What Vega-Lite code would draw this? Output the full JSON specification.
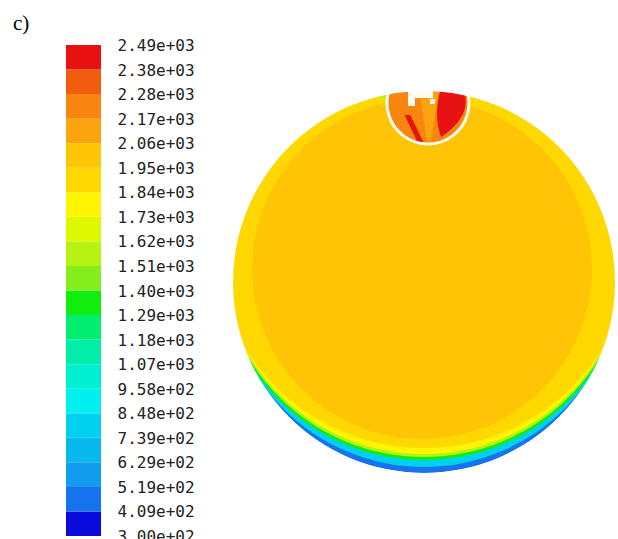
{
  "$schema": "https://vega.github.io/schema/vega-lite/v6.json",
  "background": "white",
  "padding": {"left": 13, "top": 13, "right": 3, "bottom": 0},
  "config": {"view": {"stroke": null}},
  "title": {
    "text": "c)",
    "anchor": "start",
    "font": "Liberation Serif",
    "fontSize": 21,
    "fontWeight": "normal",
    "color": "#000000",
    "dx": -53,
    "offset": 4
  },
  "bounds": "flush",
  "spacing": 132,
  "resolve": {"scale": {"color": "independent"}},
  "datasets": {
    "bands": [
      {"lo": 299.6, "hi": 409.35},
      {"lo": 409.35, "hi": 519.1},
      {"lo": 519.1, "hi": 628.85},
      {"lo": 628.85, "hi": 738.6},
      {"lo": 738.6, "hi": 848.35},
      {"lo": 848.35, "hi": 958.1},
      {"lo": 958.1, "hi": 1067.85},
      {"lo": 1067.85, "hi": 1177.6},
      {"lo": 1177.6, "hi": 1287.35},
      {"lo": 1287.35, "hi": 1397.1},
      {"lo": 1397.1, "hi": 1506.85},
      {"lo": 1506.85, "hi": 1616.6},
      {"lo": 1616.6, "hi": 1726.35},
      {"lo": 1726.35, "hi": 1836.1},
      {"lo": 1836.1, "hi": 1945.85},
      {"lo": 1945.85, "hi": 2055.6},
      {"lo": 2055.6, "hi": 2165.35},
      {"lo": 2165.35, "hi": 2275.1},
      {"lo": 2275.1, "hi": 2384.85},
      {"lo": 2384.85, "hi": 2494.6}
    ],
    "ticks": [
      {"t": 299.6, "label": "3.00e+02"},
      {"t": 409.35, "label": "4.09e+02"},
      {"t": 519.1, "label": "5.19e+02"},
      {"t": 628.85, "label": "6.29e+02"},
      {"t": 738.6, "label": "7.39e+02"},
      {"t": 848.35, "label": "8.48e+02"},
      {"t": 958.1, "label": "9.58e+02"},
      {"t": 1067.85, "label": "1.07e+03"},
      {"t": 1177.6, "label": "1.18e+03"},
      {"t": 1287.35, "label": "1.29e+03"},
      {"t": 1397.1, "label": "1.40e+03"},
      {"t": 1506.85, "label": "1.51e+03"},
      {"t": 1616.6, "label": "1.62e+03"},
      {"t": 1726.35, "label": "1.73e+03"},
      {"t": 1836.1, "label": "1.84e+03"},
      {"t": 1945.85, "label": "1.95e+03"},
      {"t": 2055.6, "label": "2.06e+03"},
      {"t": 2165.35, "label": "2.17e+03"},
      {"t": 2275.1, "label": "2.28e+03"},
      {"t": 2384.85, "label": "2.38e+03"},
      {"t": 2494.6, "label": "2.49e+03"}
    ],
    "discs": [
      {"k": 0, "x": 0, "y": 0, "r": 1, "t": 460},
      {"k": 1, "x": 0, "y": 0.0733, "r": 1.0419, "t": 790},
      {"k": 2, "x": 0, "y": 0.1414, "r": 1.0733, "t": 1340},
      {"k": 3, "x": 0, "y": 0.1571, "r": 1.0733, "t": 1560},
      {"k": 4, "x": 0, "y": 0.1728, "r": 1.0733, "t": 1780},
      {"k": 5, "x": 0, "y": 0.2304, "r": 1.0995, "t": 1890},
      {"k": 6, "x": -0.0105, "y": 0.0681, "r": 0.8901, "t": 2000}
    ],
    "inset": [
      {"part": "base", "x": 0.0209, "y": 0.9372, "r": 0.2147, "t": 2220},
      {"part": "stripe", "x": 0.0262, "y": 0.8743, "r": 0.1361, "t": 2110},
      {"part": "red", "x": 0.1414, "y": 0.8796, "r": 0.1152, "t": 2440},
      {"part": "streak", "x": -0.0576, "y": 0.801, "r": 0.0733, "t": 2440},
      {"part": "hook", "x": -0.0157, "y": 0.9634, "r": 0.0733, "t": 0},
      {"part": "spot", "x": -0.215, "y": 0.972, "r": 0.0157, "t": 1560}
    ],
    "mask": [
      {"x": 0, "y": 0, "ro": 1.35, "ri": 1}
    ]
  },
  "hconcat": [
    {
      "width": 35,
      "height": 491,
      "layer": [
        {
          "data": {"name": "bands"},
          "mark": {"type": "rect"},
          "encoding": {
            "y": {"field": "lo", "type": "quantitative", "scale": {"domain": [299.6, 2494.6], "nice": false, "zero": false}, "axis": null},
            "y2": {"field": "hi"},
            "color": {
              "field": "lo", "type": "quantitative", "legend": null,
              "scale": {
                "type": "threshold",
                "domain": [409.35, 519.1, 628.85, 738.6, 848.35, 958.1, 1067.85, 1177.6, 1287.35, 1397.1, 1506.85, 1616.6, 1726.35, 1836.1, 1945.85, 2055.6, 2165.35, 2275.1, 2384.85],
                "range": ["#0A0ADC", "#1673EE", "#129CEE", "#08B8EE", "#00D0F0", "#00F0F0", "#00EED2", "#00EEA8", "#00EE70", "#10EE10", "#86EE1C", "#B6F212", "#DDF800", "#FFF500", "#FFD800", "#FFC405", "#FBA40E", "#F8860E", "#F25C0E", "#E81212"]
              }
            }
          }
        },
        {
          "data": {"name": "ticks"},
          "mark": {"type": "text", "align": "left", "baseline": "middle", "dx": 34, "dy": 1, "font": "DejaVu Sans Mono", "fontSize": 16, "color": "#222222"},
          "encoding": {
            "y": {"field": "t", "type": "quantitative", "scale": {"domain": [299.6, 2494.6], "nice": false, "zero": false}, "axis": null},
            "text": {"field": "label", "type": "nominal"}
          }
        }
      ]
    },
    {
      "width": 382,
      "height": 474,
      "encoding": {
        "x": {"field": "x", "type": "quantitative", "scale": {"domain": [-1, 1], "nice": false, "zero": false}, "axis": null},
        "y": {"field": "y", "type": "quantitative", "scale": {"domain": [-1.2408, 1.2408], "nice": false, "zero": false}, "axis": null}
      },
      "layer": [
        {
          "data": {"name": "discs"},
          "mark": {"type": "point", "shape": "circle", "filled": true, "opacity": 1, "strokeWidth": 0, "clip": true},
          "encoding": {
            "size": {"field": "r", "type": "quantitative", "scale": {"type": "pow", "exponent": 2, "domain": [0, 1], "range": [0, 145924]}, "legend": null},
            "color": {
              "field": "t", "type": "quantitative", "legend": null,
              "scale": {
                "type": "threshold",
                "domain": [409.35, 519.1, 628.85, 738.6, 848.35, 958.1, 1067.85, 1177.6, 1287.35, 1397.1, 1506.85, 1616.6, 1726.35, 1836.1, 1945.85, 2055.6, 2165.35, 2275.1, 2384.85],
                "range": ["#0A0ADC", "#1673EE", "#129CEE", "#08B8EE", "#00D0F0", "#00F0F0", "#00EED2", "#00EEA8", "#00EE70", "#10EE10", "#86EE1C", "#B6F212", "#DDF800", "#FFF500", "#FFD800", "#FFC405", "#FBA40E", "#F8860E", "#F25C0E", "#E81212"]
              }
            },
            "order": {"field": "k"}
          }
        },
        {
          "data": {"name": "inset"},
          "transform": [{"filter": "datum.part === 'base'"}],
          "mark": {"type": "point", "shape": "M -0.94 -0.341 A 1 1 0 1 0 0.94 -0.341 Z", "filled": true, "opacity": 1, "strokeWidth": 0},
          "encoding": {
            "size": {"field": "r", "type": "quantitative", "scale": {"type": "pow", "exponent": 2, "domain": [0, 1], "range": [0, 145924]}, "legend": null},
            "color": {
              "field": "t", "type": "quantitative", "legend": null,
              "scale": {
                "type": "threshold",
                "domain": [409.35, 519.1, 628.85, 738.6, 848.35, 958.1, 1067.85, 1177.6, 1287.35, 1397.1, 1506.85, 1616.6, 1726.35, 1836.1, 1945.85, 2055.6, 2165.35, 2275.1, 2384.85],
                "range": ["#0A0ADC", "#1673EE", "#129CEE", "#08B8EE", "#00D0F0", "#00F0F0", "#00EED2", "#00EEA8", "#00EE70", "#10EE10", "#86EE1C", "#B6F212", "#DDF800", "#FFF500", "#FFD800", "#FFC405", "#FBA40E", "#F8860E", "#F25C0E", "#E81212"]
              }
            }
          }
        },
        {
          "data": {"name": "inset"},
          "transform": [{"filter": "datum.part === 'stripe'"}],
          "mark": {"type": "point", "shape": "M -0.38 -1 L 0.38 -1 L 0.08 1 L -0.08 1 Z", "filled": true, "opacity": 1, "strokeWidth": 0},
          "encoding": {
            "size": {"field": "r", "type": "quantitative", "scale": {"type": "pow", "exponent": 2, "domain": [0, 1], "range": [0, 145924]}, "legend": null},
            "color": {
              "field": "t", "type": "quantitative", "legend": null,
              "scale": {
                "type": "threshold",
                "domain": [409.35, 519.1, 628.85, 738.6, 848.35, 958.1, 1067.85, 1177.6, 1287.35, 1397.1, 1506.85, 1616.6, 1726.35, 1836.1, 1945.85, 2055.6, 2165.35, 2275.1, 2384.85],
                "range": ["#0A0ADC", "#1673EE", "#129CEE", "#08B8EE", "#00D0F0", "#00F0F0", "#00EED2", "#00EEA8", "#00EE70", "#10EE10", "#86EE1C", "#B6F212", "#DDF800", "#FFF500", "#FFD800", "#FFC405", "#FBA40E", "#F8860E", "#F25C0E", "#E81212"]
              }
            }
          }
        },
        {
          "data": {"name": "inset"},
          "transform": [{"filter": "datum.part === 'red'"}],
          "mark": {"type": "point", "shape": "M -0.5 -1 L 0.6 -1 Q 0.95 0.1 -0.45 1.05 Q -0.8 0.1 -0.5 -1 Z", "filled": true, "opacity": 1, "strokeWidth": 0},
          "encoding": {
            "size": {"field": "r", "type": "quantitative", "scale": {"type": "pow", "exponent": 2, "domain": [0, 1], "range": [0, 145924]}, "legend": null},
            "color": {
              "field": "t", "type": "quantitative", "legend": null,
              "scale": {
                "type": "threshold",
                "domain": [409.35, 519.1, 628.85, 738.6, 848.35, 958.1, 1067.85, 1177.6, 1287.35, 1397.1, 1506.85, 1616.6, 1726.35, 1836.1, 1945.85, 2055.6, 2165.35, 2275.1, 2384.85],
                "range": ["#0A0ADC", "#1673EE", "#129CEE", "#08B8EE", "#00D0F0", "#00F0F0", "#00EED2", "#00EEA8", "#00EE70", "#10EE10", "#86EE1C", "#B6F212", "#DDF800", "#FFF500", "#FFD800", "#FFC405", "#FBA40E", "#F8860E", "#F25C0E", "#E81212"]
              }
            }
          }
        },
        {
          "data": {"name": "inset"},
          "transform": [{"filter": "datum.part === 'streak'"}],
          "mark": {"type": "point", "shape": "M -0.6 -1 L -0.2 -1 L 0.75 0.95 L 0.35 1 Z", "filled": true, "opacity": 1, "strokeWidth": 0},
          "encoding": {
            "size": {"field": "r", "type": "quantitative", "scale": {"type": "pow", "exponent": 2, "domain": [0, 1], "range": [0, 145924]}, "legend": null},
            "color": {
              "field": "t", "type": "quantitative", "legend": null,
              "scale": {
                "type": "threshold",
                "domain": [409.35, 519.1, 628.85, 738.6, 848.35, 958.1, 1067.85, 1177.6, 1287.35, 1397.1, 1506.85, 1616.6, 1726.35, 1836.1, 1945.85, 2055.6, 2165.35, 2275.1, 2384.85],
                "range": ["#0A0ADC", "#1673EE", "#129CEE", "#08B8EE", "#00D0F0", "#00F0F0", "#00EED2", "#00EEA8", "#00EE70", "#10EE10", "#86EE1C", "#B6F212", "#DDF800", "#FFF500", "#FFD800", "#FFC405", "#FBA40E", "#F8860E", "#F25C0E", "#E81212"]
              }
            }
          }
        },
        {
          "data": {"name": "inset"},
          "transform": [{"filter": "datum.part === 'hook'"}],
          "mark": {"type": "point", "shape": "M -0.93 -0.5 L 0.86 -0.5 L 0.86 0 L -0.43 0 L -0.43 0.57 L -0.93 0.57 Z M 0.64 0.07 L 1 0.07 L 1 0.43 L 0.64 0.43 Z", "filled": true, "opacity": 1, "strokeWidth": 0, "color": "#FFFBEF"},
          "encoding": {
            "size": {"field": "r", "type": "quantitative", "scale": {"type": "pow", "exponent": 2, "domain": [0, 1], "range": [0, 145924]}, "legend": null}
          }
        },
        {
          "data": {"name": "inset"},
          "transform": [{"filter": "datum.part === 'base'"}],
          "mark": {"type": "point", "shape": "M -0.94 -0.341 A 1 1 0 1 0 0.94 -0.341 Z", "filled": false, "opacity": 1, "strokeWidth": 3, "color": "#FFFBEF"},
          "encoding": {
            "size": {"field": "r", "type": "quantitative", "scale": {"type": "pow", "exponent": 2, "domain": [0, 1], "range": [0, 145924]}, "legend": null}
          }
        },
        {
          "data": {"name": "inset"},
          "transform": [{"filter": "datum.part === 'spot'"}],
          "mark": {"type": "point", "shape": "circle", "filled": true, "opacity": 1, "strokeWidth": 0},
          "encoding": {
            "size": {"field": "r", "type": "quantitative", "scale": {"type": "pow", "exponent": 2, "domain": [0, 1], "range": [0, 145924]}, "legend": null},
            "color": {
              "field": "t", "type": "quantitative", "legend": null,
              "scale": {
                "type": "threshold",
                "domain": [409.35, 519.1, 628.85, 738.6, 848.35, 958.1, 1067.85, 1177.6, 1287.35, 1397.1, 1506.85, 1616.6, 1726.35, 1836.1, 1945.85, 2055.6, 2165.35, 2275.1, 2384.85],
                "range": ["#0A0ADC", "#1673EE", "#129CEE", "#08B8EE", "#00D0F0", "#00F0F0", "#00EED2", "#00EEA8", "#00EE70", "#10EE10", "#86EE1C", "#B6F212", "#DDF800", "#FFF500", "#FFD800", "#FFC405", "#FBA40E", "#F8860E", "#F25C0E", "#E81212"]
              }
            }
          }
        },
        {
          "data": {"name": "mask"},
          "mark": {"type": "arc", "color": "white", "clip": true},
          "encoding": {
            "radius": {"field": "ro", "type": "quantitative", "scale": {"type": "linear", "domain": [0, 1], "range": [0, 191], "zero": true}},
            "radius2": {"field": "ri"}
          }
        }
      ]
    }
  ]
}
